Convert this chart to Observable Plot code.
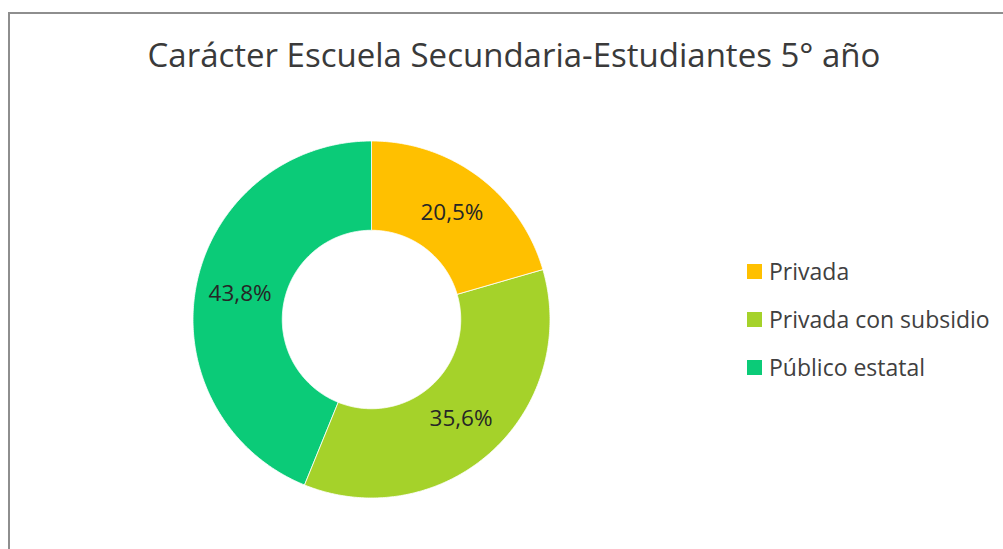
<!DOCTYPE html>
<html>
<head>
<meta charset="utf-8">
<script src="https://cdn.jsdelivr.net/npm/d3@7"></script>
<script src="https://cdn.jsdelivr.net/npm/@observablehq/plot@0.6"></script>
<style>
  html, body { margin: 0; padding: 0; background: #fff; }
  #page { position: relative; width: 1003px; height: 549px; overflow: hidden; font-family: "Open Sans", sans-serif; }
  #box { position: absolute; left: 8px; top: 12px; width: 1010px; height: 560px; border: 2px solid #8e8e8e; box-sizing: border-box; }
  #title { position: absolute; left: 0; width: 1028px; top: 32px; text-align: center; font-size: 33px; color: #3a3a3a; white-space: nowrap; }
  #chart { position: absolute; left: 0; top: 0; }
  #legend { position: absolute; left: 747px; top: 247px; }
  #legend .lg-swatch { height: 48px; padding-bottom: 0 !important; color: #404040; }
  #legend .lg-swatch svg { margin-right: 7px !important; }
</style>
</head>
<body>
<div id="page">
  <div id="box"></div>
  <div id="chart"></div>
  <div id="title">Carácter Escuela Secundaria-Estudiantes 5° año</div>
  <div id="legend"></div>
</div>
<script>
const categories = ["Privada", "Privada con subsidio", "Público estatal"];
const values = [20.5, 35.6, 43.8];
const labels = ["20,5%", "35,6%", "43,8%"];
const colors = ["#FFC000", "#A5D22A", "#0BCB78"];
const innerRatio = 0.5;

const pie = d3.pie().sort(null).value(d => d.value)(
  categories.map((c, i) => ({category: c, value: values[i], label: labels[i]}))
);

// ring polygons (angle measured clockwise from top)
const ring = [];
pie.forEach(p => {
  const n = Math.max(2, Math.ceil((p.endAngle - p.startAngle) / 0.01));
  for (let k = 0; k <= n; k++) {
    const a = p.startAngle + (p.endAngle - p.startAngle) * k / n;
    ring.push({category: p.data.category, x: Math.sin(a), y: Math.cos(a)});
  }
  for (let k = n; k >= 0; k--) {
    const a = p.startAngle + (p.endAngle - p.startAngle) * k / n;
    ring.push({category: p.data.category, x: innerRatio * Math.sin(a), y: innerRatio * Math.cos(a)});
  }
});
const mid = pie.map(p => {
  const a = (p.startAngle + p.endAngle) / 2, r = (1 + innerRatio) / 2;
  return {label: p.data.label, x: r * Math.sin(a), y: r * Math.cos(a)};
});

const color = {domain: categories, range: colors};

const chart = Plot.plot({
  width: 1003, height: 549,
  marginLeft: 192.5, marginRight: 453.5, marginTop: 140.5, marginBottom: 51.5,
  x: {domain: [-1, 1], axis: null},
  y: {domain: [-1, 1], axis: null},
  color,
  style: {background: "transparent", fontFamily: "Open Sans, sans-serif"},
  marks: [
    Plot.line(ring, {x: "x", y: "y", z: "category", fill: "category", stroke: "white", strokeWidth: 0.8, curve: "linear-closed"}),
    Plot.text(mid, {x: "x", y: "y", text: "label", fontSize: 22.5, fill: "#262626"})
  ]
});
document.getElementById("chart").appendChild(chart);

const legend = Plot.legend({
  color,
  legend: "swatches",
  columns: 1,
  swatchSize: 15,
  className: "lg",
  style: {fontSize: "23px", fontFamily: "Open Sans, sans-serif", color: "#404040"}
});
document.getElementById("legend").appendChild(legend);
</script>
</body>
</html>
